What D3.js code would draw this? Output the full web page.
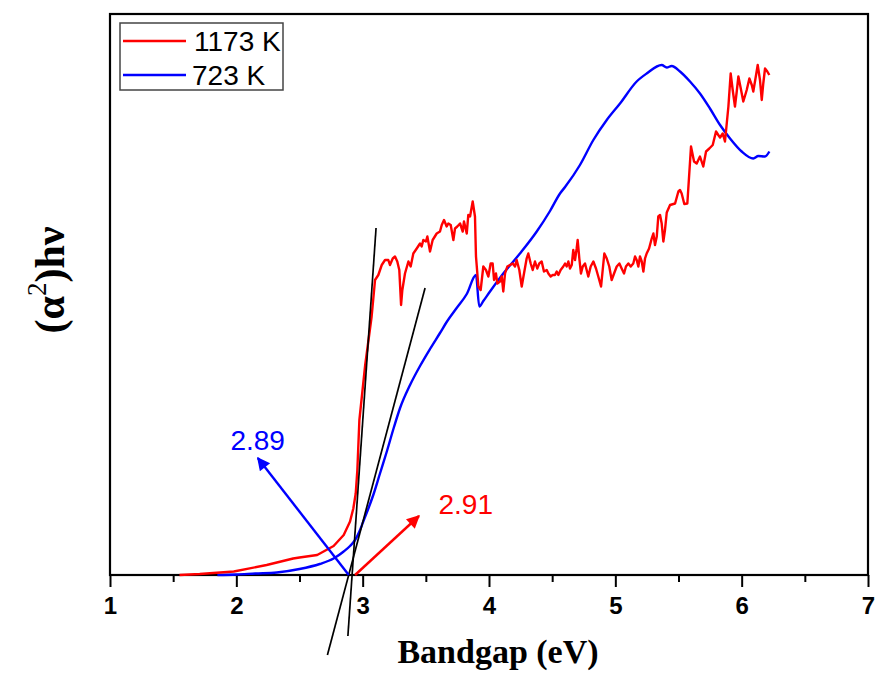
<!DOCTYPE html>
<html><head><meta charset="utf-8">
<script src="https://cdn.jsdelivr.net/npm/d3@7"></script>
<style>body{margin:0;background:#fff}</style>
</head><body>
<svg id="chart" width="876" height="673"></svg>
<script>
// ---- data ----
const xTickValues = [1, 2, 3, 4, 5, 6, 7];
const xMinorTicks = [1.5, 2.5, 3.5, 4.5, 5.5, 6.5];
const seriesNames = ["1173 K", "723 K"];
const seriesColors = ["#ff0000", "#0000ff"];

// 1173 K : [photon energy (eV), (alpha h nu)^2 (a.u.)]
const red1173 = [
[1.55,0],[1.71,0.2],[1.98,0.7],[2.24,2.0],[2.45,3.3],[2.50,3.5],[2.64,4.0],[2.77,5.8],[2.85,8.0],[2.90,10.7],
[2.926,13.3],[2.945,16.3],[2.958,21],[2.974,31],[3.02,42],[3.071,51.7],[3.098,59],[3.124,60],[3.151,62],[3.177,63],
[3.203,63],[3.216,62],[3.238,63.3],[3.256,63.7],[3.274,62.7],[3.290,61],[3.304,54],[3.314,57],[3.335,60.3],[3.362,62.7],
[3.380,61.7],[3.401,64.3],[3.428,65.3],[3.454,66.3],[3.467,65.7],[3.480,67],[3.501,66.7],[3.512,67.7],[3.533,64.7],[3.554,67],
[3.586,68.3],[3.612,68.7],[3.626,70],[3.644,71],[3.665,69.7],[3.678,70.3],[3.697,70],[3.718,67],[3.731,69.3],[3.749,69.7],
[3.771,70.3],[3.792,68.7],[3.802,70.7],[3.824,68.3],[3.836,72],[3.850,71.7],[3.871,74.7],[3.889,71.7],[3.897,63.7],[3.916,57.7],
[3.934,57],[3.955,61.7],[3.976,61],[3.995,59.7],[4.013,62.3],[4.029,62.3],[4.040,59],[4.055,60.3],[4.066,58.3],[4.087,58.7],
[4.101,59.7],[4.113,56.7],[4.127,60.3],[4.145,61.7],[4.166,62],[4.188,62.3],[4.206,61.7],[4.219,63],[4.240,61],[4.259,57.7],
[4.277,60.3],[4.298,63.3],[4.311,64.3],[4.330,62.3],[4.346,61],[4.364,62.7],[4.382,61.3],[4.398,62.3],[4.417,62.7],[4.435,60.7],
[4.457,61],[4.470,60.3],[4.488,59.7],[4.504,60],[4.522,60],[4.536,60.7],[4.549,60],[4.567,61],[4.588,61.7],[4.602,62.3],
[4.615,61.7],[4.628,62.7],[4.641,61.3],[4.655,62],[4.667,65],[4.681,63],[4.694,65.3],[4.702,67],[4.715,63.3],[4.728,60.3],
[4.742,61.7],[4.760,62.3],[4.773,61],[4.786,59.7],[4.805,61.7],[4.826,62.7],[4.847,61.3],[4.865,59.7],[4.887,57.7],[4.900,61],
[4.913,64.3],[4.932,63.3],[4.952,61.7],[4.971,59],[4.990,60.3],[5.011,61.7],[5.032,62.3],[5.050,61.3],[5.069,60.3],[5.084,61.7],
[5.103,62.3],[5.122,61.7],[5.142,62.3],[5.156,63.7],[5.169,63],[5.182,61.7],[5.195,63.7],[5.209,62.7],[5.222,60.7],[5.235,63.3],
[5.248,64.3],[5.267,65.3],[5.288,67.3],[5.301,68.3],[5.314,66],[5.328,67.7],[5.340,71.7],[5.354,72],[5.367,70.3],[5.380,66.7],
[5.393,69],[5.407,72.5],[5.433,74],[5.473,74.3],[5.499,76.7],[5.512,77],[5.525,76.3],[5.546,74.2],[5.570,74.3],[5.599,85.7],
[5.623,82.7],[5.644,82.3],[5.670,83.7],[5.696,81.7],[5.718,84.7],[5.744,85.3],[5.771,86],[5.797,88.7],[5.815,88],[5.829,87.5],
[5.850,88.3],[5.868,86.7],[5.895,93.7],[5.913,100.3],[5.929,97],[5.947,93.7],[5.961,96.7],[5.974,99.7],[5.993,97.3],[6.013,94.7],
[6.040,97],[6.061,99.3],[6.080,98],[6.092,96.7],[6.114,100],[6.127,102],[6.145,99],[6.159,95],[6.171,98.3],[6.185,101.3],
[6.203,100.7],[6.219,100]
];

// 723 K
const blue723 = [
[1.85,0],[2.0,0.1],[2.15,0.3],[2.32,0.5],[2.50,1.2],[2.66,2.2],[2.77,3.3],[2.85,4.7],[2.90,5.8],[2.94,7],
[2.974,8.7],[3.005,10.7],[3.045,13.3],[3.084,16],[3.137,20.3],[3.190,24.6],[3.248,29.6],[3.296,33.4],[3.375,38],[3.454,41.8],
[3.533,45.2],[3.612,48.4],[3.665,50.6],[3.744,53.4],[3.824,56.2],[3.897,60],[3.923,53.7],[3.955,54.8],[4.008,56.7],[4.113,60.3],
[4.245,64.3],[4.378,68.7],[4.483,72.8],[4.562,76.3],[4.602,77.6],[4.720,82],[4.826,87],[4.932,91],[5.037,94.3],[5.169,98.7],
[5.248,100.3],[5.367,102],[5.407,101.5],[5.446,101.8],[5.512,100.7],[5.591,98.7],[5.670,96.3],[5.749,93.3],[5.829,90],[5.908,87.3],
[6.000,84.7],[6.092,83.3],[6.132,83.8],[6.185,83.7],[6.219,84.7]
];

// Tauc tangent lines [[x1,y1],[x2,y2]]
const tangent1173 = [[2.883,-12.2],[3.106,69.4]];
const tangent723 = [[2.721,-16],[3.494,57.4]];
// annotation arrows (from, to) and labels
const arrow723 = [[2.89,0],[2.17,23.4]];
const arrow1173 = [[2.94,0],[3.446,11.8]];
const gapLabels = ["2.89", "2.91"];
const gapLabelPos = [[1.953,25], [3.60,12.2]];

// ---- drawing ----
const svg = d3.select("#chart");
const W = 876, H = 673;
const m = {left: 110, right: 8, top: 14, bottom: 98};
const x = d3.scaleLinear().domain([1, 7]).range([m.left, W - m.right]);
const y = d3.scaleLinear().domain([0, 112.2]).range([H - m.bottom, m.top]);

svg.append("rect").attr("width", W).attr("height", H).attr("fill", "#fff");

const defs = svg.append("defs");
seriesColors.forEach((c, i) => {
  defs.append("marker").attr("id", "arr" + i)
    .attr("viewBox", "0 0 10 10").attr("refX", 9).attr("refY", 5)
    .attr("markerWidth", 16).attr("markerHeight", 13)
    .attr("markerUnits", "userSpaceOnUse").attr("orient", "auto")
    .append("path").attr("d", "M0,0 L10,5 L0,10 Z").attr("fill", c);
});

// x axis
const xAxis = d3.axisBottom(x).tickValues(xTickValues).tickFormat(d3.format("d"))
  .tickSize(12).tickPadding(10);
const gx = svg.append("g").attr("transform", `translate(0,${y(0)})`).call(xAxis);
gx.select(".domain").remove();
gx.selectAll(".tick line").attr("stroke", "#000").attr("stroke-width", 2);
gx.selectAll(".tick text").attr("font-family", "'Liberation Sans Narrow', 'Liberation Sans', Arial, sans-serif")
  .attr("font-weight", "bold").attr("font-size", 24).attr("fill", "#000");
const gxm = d3.axisBottom(x).tickValues(xMinorTicks).tickSize(7).tickFormat("");
const gm = svg.append("g").attr("transform", `translate(0,${y(0)})`).call(gxm);
gm.select(".domain").remove();
gm.selectAll(".tick line").attr("stroke", "#000").attr("stroke-width", 2);

// frame
svg.append("rect").attr("x", x(1)).attr("y", y(112.2))
  .attr("width", x(7) - x(1)).attr("height", y(0) - y(112.2))
  .attr("fill", "none").attr("stroke", "#000").attr("stroke-width", 2.2);

// curves
const line = d3.line().x(d => x(d[0])).y(d => y(d[1]));
const smooth = d3.line().x(d => x(d[0])).y(d => y(d[1])).curve(d3.curveMonotoneX);
svg.append("path").datum(blue723).attr("d", smooth).attr("fill", "none")
  .attr("stroke", seriesColors[1]).attr("stroke-width", 2.4).attr("stroke-linejoin", "round");
svg.append("path").datum(red1173).attr("d", line).attr("fill", "none")
  .attr("stroke", seriesColors[0]).attr("stroke-width", 2.4).attr("stroke-linejoin", "round");

// tangents
[tangent1173, tangent723].forEach(t => {
  svg.append("path").datum(t).attr("d", line).attr("stroke", "#000")
    .attr("stroke-width", 1.7).attr("fill", "none");
});

// arrows
[arrow1173, arrow723].forEach((a, i) => {
  svg.append("path").datum(a).attr("d", line).attr("fill", "none")
    .attr("stroke", seriesColors[i]).attr("stroke-width", 2.4)
    .attr("marker-end", `url(#arr${i})`);
});

// gap labels
gapLabels.forEach((t, i) => {
  svg.append("text").attr("x", x(gapLabelPos[i][0])).attr("y", y(gapLabelPos[i][1]))
    .attr("font-family", "'Liberation Sans', Arial, sans-serif").attr("font-size", 28)
    .attr("fill", seriesColors[i === 0 ? 1 : 0]).text(t);
});

// axis titles
svg.append("text").attr("x", 498).attr("y", 663)
  .attr("text-anchor", "middle").attr("font-family", "'Liberation Serif', 'Times New Roman', serif")
  .attr("font-weight", "bold").attr("font-size", 34).attr("fill", "#000").text("Bandgap (eV)");

const yl = svg.append("text").attr("transform", "translate(64,280) rotate(-90)")
  .attr("text-anchor", "middle").attr("font-family", "'Liberation Serif', 'Times New Roman', serif")
  .attr("font-weight", "bold").attr("font-size", 42).attr("fill", "#000");
yl.append("tspan").text("(α");
yl.append("tspan").attr("dy", -18).attr("font-size", 27).attr("font-weight", "normal").text("2");
yl.append("tspan").attr("dy", 18).text(")hν");

// legend
const lg = svg.append("g");
lg.append("rect").attr("x", 120).attr("y", 23).attr("width", 163).attr("height", 67)
  .attr("fill", "#fff").attr("stroke", "#444").attr("stroke-width", 1.5);
seriesNames.forEach((n, i) => {
  const yy = 41 + i * 34;
  lg.append("line").attr("x1", 123).attr("x2", 186).attr("y1", yy).attr("y2", yy)
    .attr("stroke", seriesColors[i]).attr("stroke-width", 2.4);
  lg.append("text").attr("x", i === 0 ? 194 : 192).attr("y", yy + 10)
    .attr("font-family", "'Liberation Sans', Arial, sans-serif").attr("font-size", 28)
    .attr("fill", "#000").text(n);
});
</script>
</body></html>
